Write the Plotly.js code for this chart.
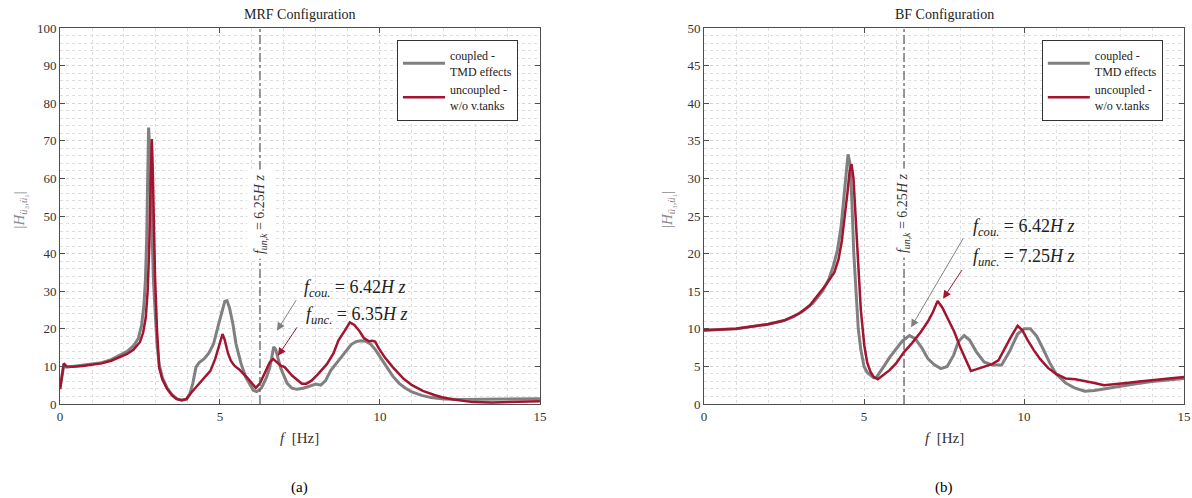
<!DOCTYPE html>
<html>
<head>
<meta charset="utf-8">
<script src="https://cdn.plot.ly/plotly-3.0.1.min.js"></script>
<style>
  html, body { margin: 0; padding: 0; background: #fff; }
  #chart { width: 1192px; height: 498px; }
</style>
</head>
<body>
<div id="chart"></div>
<script>
// ---------- DATA ----------
const seriesNames = ["coupled -<br>TMD effects", "uncoupled -<br>w/o v.tanks"];
const panelTitles = ["MRF Configuration", "BF Configuration"];
const panelLabels = ["(a)", "(b)"];
const fUnk = 6.25;

// MRF – coupled (TMD effects)
const mrfCoupledF = [0, 0.05, 0.12, 0.2, 0.4, 0.7, 1.0, 1.3, 1.6, 1.9, 2.1, 2.3, 2.45, 2.55, 2.62, 2.67, 2.71, 2.74, 2.77, 2.8, 2.84, 2.88, 2.92, 2.97, 3.03, 3.1, 3.2, 3.35, 3.5, 3.65, 3.8, 3.95, 4.05, 4.15, 4.25, 4.35, 4.5, 4.65, 4.8, 4.95, 5.05, 5.15, 5.22, 5.3, 5.4, 5.5, 5.65, 5.8, 5.95, 6.05, 6.15, 6.3, 6.45, 6.55, 6.62, 6.68, 6.74, 6.82, 6.9, 7.0, 7.1, 7.25, 7.4, 7.6, 7.8, 8.0, 8.15, 8.3, 8.46, 8.7, 8.94, 9.1, 9.25, 9.4, 9.55, 9.7, 9.85, 10.0, 10.2, 10.4, 10.6, 10.8, 11.0, 11.3, 11.6, 12.0, 12.5, 13.0, 13.5, 14.0, 14.5, 15.0];
const mrfCoupledH = [4, 7, 10.5, 9.8, 10, 10.3, 10.5, 11, 11.8, 13, 14, 15.5, 17.5, 21, 26, 33, 44, 60, 73.5, 68, 55, 42, 33, 25, 16, 10.5, 7, 4.2, 2.5, 1.4, 1, 1.3, 2.5, 5.5, 9.8, 11, 12, 13.5, 16, 21, 24.5, 27.3, 27.5, 25.5, 21.5, 16, 11, 7.2, 5, 3.6, 3.3, 4.3, 7, 9.5, 12.5, 15.2, 14.5, 12, 9.5, 7.5, 5.5, 4.2, 3.9, 4.2, 4.8, 5.3, 5, 6.2, 8.9, 11.5, 14.2, 15.8, 16.6, 16.8, 16.7, 16, 14.5, 12.5, 9.8, 7.4, 5.5, 4.2, 3.2, 2.3, 1.7, 1.3, 1.2, 1.2, 1.2, 1.3, 1.3, 1.4];

// MRF – uncoupled (w/o v.tanks)
const mrfUncoupledF = [0, 0.06, 0.12, 0.2, 0.4, 0.7, 1.0, 1.3, 1.6, 1.9, 2.1, 2.3, 2.5, 2.6, 2.68, 2.74, 2.79, 2.83, 2.87, 2.9, 2.93, 2.97, 3.03, 3.1, 3.2, 3.35, 3.5, 3.65, 3.8, 3.95, 4.1, 4.3, 4.5, 4.7, 4.85, 5.0, 5.08, 5.15, 5.25, 5.34, 5.45, 5.6, 5.7, 5.85, 6.0, 6.12, 6.25, 6.4, 6.55, 6.66, 6.8, 6.9, 7.02, 7.15, 7.26, 7.4, 7.56, 7.7, 7.86, 8.05, 8.34, 8.55, 8.7, 8.9, 9.06, 9.2, 9.35, 9.5, 9.66, 9.75, 9.85, 9.95, 10.15, 10.4, 10.74, 11.0, 11.34, 11.7, 11.94, 12.3, 12.9, 13.5, 14.0, 14.5, 15.0];
const mrfUncoupledH = [4, 7, 10.8, 10, 9.9, 10.1, 10.4, 10.8, 11.5, 12.5, 13.3, 14.5, 16.5, 19, 23, 30, 42, 58, 70.5, 62, 48, 34, 20, 9.6, 6.5, 4, 2.3, 1.3, 1, 1.3, 3, 5, 6.8, 8.8, 12, 16, 18.6, 17, 13.5, 11.5, 10.2, 9.2, 8.4, 7, 5.5, 4.3, 5.5, 8.5, 11, 12, 11, 10.2, 9.8, 8.5, 7.5, 6.5, 5.4, 5.4, 6.2, 7.8, 10.6, 13.5, 16.9, 19.5, 21.7, 21, 19.5, 17.5, 16.7, 16.8, 16.6, 15, 12.4, 9.8, 6.7, 5, 3.5, 2.4, 1.8, 1.2, 0.5, 0.4, 0.5, 0.6, 0.7];

// BF – coupled (TMD effects)
const bfCoupledF = [0, 0.5, 1, 1.5, 2, 2.5, 2.8, 3.1, 3.4, 3.7, 3.9, 4.05, 4.17, 4.28, 4.36, 4.43, 4.5, 4.56, 4.62, 4.68, 4.75, 4.82, 4.9, 5.0, 5.1, 5.2, 5.3, 5.38, 5.5, 5.65, 5.8, 6.0, 6.2, 6.42, 6.6, 6.8, 7.0, 7.2, 7.4, 7.6, 7.8, 7.95, 8.13, 8.3, 8.5, 8.75, 9.0, 9.3, 9.55, 9.8, 10.0, 10.2, 10.4, 10.6, 10.8, 11.0, 11.3, 11.6, 11.9, 12.2, 12.6, 13.0, 13.5, 14.0, 14.5, 15.0];
const bfCoupledH = [9.8, 9.9, 10, 10.3, 10.6, 11.1, 11.6, 12.4, 13.4, 15, 16.6, 18.5, 20.5, 23.5, 27, 30.5, 33.2, 32, 27, 20, 14, 10, 7.2, 5, 4.2, 3.8, 3.5, 3.5, 4.2, 5.2, 6.2, 7.3, 8.4, 9.1, 8.7, 7.5, 6, 5.2, 4.7, 5, 6.5, 8.3, 9.1, 8.5, 7, 5.6, 5.2, 5.2, 7, 9.3, 10, 10, 9, 7.3, 5.5, 4, 2.8, 2.1, 1.7, 1.8, 2.1, 2.4, 2.7, 3, 3.2, 3.4];

// BF – uncoupled (w/o v.tanks)
const bfUncoupledF = [0, 0.5, 1, 1.5, 2, 2.5, 3.0, 3.3, 3.55, 3.8, 4.07, 4.2, 4.3, 4.4, 4.48, 4.55, 4.61, 4.67, 4.73, 4.8, 4.9, 5.01, 5.1, 5.2, 5.3, 5.43, 5.6, 5.8, 6.0, 6.25, 6.5, 6.78, 7.0, 7.15, 7.3, 7.45, 7.6, 7.82, 8.03, 8.2, 8.34, 8.5, 8.8, 9.0, 9.2, 9.4, 9.6, 9.8, 9.95, 10.1, 10.3, 10.5, 10.75, 11.0, 11.3, 11.6, 11.9, 12.2, 12.5, 12.8, 13.2, 13.6, 14.0, 14.5, 15.0];
const bfUncoupledH = [9.8, 9.9, 10, 10.3, 10.6, 11.1, 12.1, 13.1, 14.4, 15.8, 17.5, 19.2, 21.5, 24.7, 28, 31, 31.9, 30, 25, 19.7, 12.5, 7.75, 5.5, 4.3, 3.6, 3.3, 3.8, 4.5, 5.4, 6.9, 8.1, 9.6, 11, 12.2, 13.7, 12.8, 11.5, 9.6, 7.3, 5.8, 4.4, 4.6, 5.0, 5.3, 5.8, 7.5, 9, 10.4, 9.8, 8.6, 7.2, 6.0, 4.8, 4.0, 3.4, 3.3, 3.1, 2.8, 2.5, 2.6, 2.8, 3.0, 3.2, 3.4, 3.6];

// peak annotation labels
const mrfPeakLabels = ["<i>f</i><sub><i>cou.</i></sub> = 6.42<i>H z</i>", "<i>f</i><sub><i>unc.</i></sub> = 6.35<i>H z</i>"];
const bfPeakLabels  = ["<i>f</i><sub><i>cou.</i></sub> = 6.42<i>H z</i>", "<i>f</i><sub><i>unc.</i></sub> = 7.25<i>H z</i>"];

// ---------- STYLE ----------
const GRAY = "#808080";
const RED = "#A2142F";
const FONT = "'Liberation Serif', 'DejaVu Serif', serif";
const AXC = "#4d4d4d";

function trace(x, y, name, color, width, xa, ya, legend) {
  return { x: x, y: y, name: name, type: "scatter", mode: "lines",
    line: { color: color, width: width }, xaxis: xa, yaxis: ya, legend: legend,
    hoverinfo: "skip" };
}

const data = [
  trace(mrfCoupledF, mrfCoupledH, seriesNames[0], GRAY, 3, "x", "y", "legend"),
  trace(mrfUncoupledF, mrfUncoupledH, seriesNames[1], RED, 2.5, "x", "y", "legend"),
  trace(bfCoupledF, bfCoupledH, seriesNames[0], GRAY, 3, "x2", "y2", "legend2"),
  trace(bfUncoupledF, bfUncoupledH, seriesNames[1], RED, 2.5, "x2", "y2", "legend2")
];

function xAxis(domain, anchor) {
  return { domain: domain, anchor: anchor, range: [0, 15], dtick: 5, tick0: 0,
    showline: true, linecolor: AXC, linewidth: 1, mirror: "ticks",
    ticks: "inside", ticklen: 5, tickcolor: AXC, zeroline: false,
    showgrid: true, gridcolor: "#d6d6d6", griddash: "dot", gridwidth: 1,
    minor: { dtick: 1, showgrid: true, gridcolor: "#dedede", griddash: "dot", gridwidth: 1, ticks: "" },
    tickfont: { family: FONT, size: 13, color: "#333" } };
}
function yAxis(domain, anchor, max, major, minor) {
  return { domain: domain, anchor: anchor, range: [0, max], dtick: major, tick0: 0,
    showline: true, linecolor: AXC, linewidth: 1, mirror: "ticks",
    ticks: "inside", ticklen: 5, tickcolor: AXC, zeroline: false,
    showgrid: true, gridcolor: "#d6d6d6", griddash: "dot", gridwidth: 1,
    minor: { dtick: minor, showgrid: true, gridcolor: "#dedede", griddash: "dot", gridwidth: 1, ticks: "" },
    tickfont: { family: FONT, size: 13, color: "#333" } };
}

const leftDom = [0, 0.427];
const rightDom = [0.573, 1];

function textAnn(text, x, y, xref, yref, size, extra) {
  return Object.assign({ text: text, x: x, y: y, xref: xref, yref: yref, showarrow: false,
    xanchor: "center", yanchor: "middle",
    font: { family: FONT, size: size, color: "#222" } }, extra || {});
}
function arrowAnn(x, y, ax, ay, xr, yr, color) {
  return { text: "", x: x, y: y, ax: ax, ay: ay, xref: xr, yref: yr, axref: xr, ayref: yr,
    showarrow: true, arrowhead: 2, arrowsize: 1.6, arrowwidth: 1, arrowcolor: color };
}

const annotations = [
  // titles
  textAnn(panelTitles[0], 0.2135, 1.037, "paper", "paper", 14),
  textAnn(panelTitles[1], 0.7865, 1.037, "paper", "paper", 14),
  // x titles
  textAnn("<i>f</i>  [Hz]", 0.2135, -0.09, "paper", "paper", 15, {font: {family: FONT, size: 15, color: "#333"}}),
  textAnn("<i>f</i>  [Hz]", 0.7865, -0.09, "paper", "paper", 15, {font: {family: FONT, size: 15, color: "#333"}}),
  // y titles
  textAnn("|<i>H</i><sub><i>ü</i>₃<i>,ü</i>₁</sub>|", -0.036, 0.516, "paper", "paper", 15, {textangle: -90, font: {family: FONT, size: 15, color: "#888"}}),
  textAnn("|<i>H</i><sub><i>ü</i>₃<i>,ü</i>₁</sub>|", 0.541, 0.516, "paper", "paper", 15, {textangle: -90, font: {family: FONT, size: 15, color: "#888"}}),
  // sub-captions
  textAnn(panelLabels[0], 0.2135, -0.221, "paper", "paper", 15, {font: {family: FONT, size: 15, color: "#000"}}),
  textAnn(panelLabels[1], 0.7865, -0.221, "paper", "paper", 15, {font: {family: FONT, size: 15, color: "#000"}}),
  // f_un,k vertical labels
  textAnn("<i>f</i><sub><i>un,k</i></sub> = 6.25<i>H z</i>", fUnk, 50.5, "x", "y", 14, {textangle: -90, bgcolor: "#fff", borderpad: 4, font: {family: FONT, size: 14, color: "#333"}}),
  textAnn("<i>f</i><sub><i>un,k</i></sub> = 6.25<i>H z</i>", fUnk, 25.4, "x2", "y2", 14, {textangle: -90, bgcolor: "#fff", borderpad: 4, font: {family: FONT, size: 14, color: "#333"}}),
  // peak labels
  textAnn(mrfPeakLabels[0], 7.56, 30.7, "x", "y", 18, {xanchor: "left"}),
  textAnn(mrfPeakLabels[1], 7.63, 23.5, "x", "y", 18, {xanchor: "left"}),
  textAnn(bfPeakLabels[0], 8.34, 23.5, "x2", "y2", 18, {xanchor: "left"}),
  textAnn(bfPeakLabels[1], 8.34, 19.5, "x2", "y2", 18, {xanchor: "left"}),
  // arrows
  arrowAnn(6.78, 19.5, 7.41, 28, "x", "y", GRAY),
  arrowAnn(6.81, 12.8, 7.44, 20.8, "x", "y", RED),
  arrowAnn(6.47, 10.2, 8.125, 22.2, "x2", "y2", GRAY),
  arrowAnn(7.47, 14.0, 8.09, 18.0, "x2", "y2", RED)
];

const shapes = [
  { type: "line", xref: "x", yref: "y", x0: fUnk, x1: fUnk, y0: 0, y1: 100,
    line: { color: "#555", width: 1.2, dash: "dashdot" } },
  { type: "line", xref: "x2", yref: "y2", x0: fUnk, x1: fUnk, y0: 0, y1: 50,
    line: { color: "#555", width: 1.2, dash: "dashdot" } }
];

function legendBox(x) {
  return { x: x, y: 0.968, xanchor: "left", yanchor: "top", bgcolor: "#fff",
    bordercolor: "#333", borderwidth: 1, font: { family: FONT, size: 12, color: "#222" },
    tracegroupgap: 0, itemwidth: 42, traceorder: "normal" };
}

const layout = {
  width: 1192, height: 498,
  margin: { l: 60, r: 8, t: 28, b: 94 },
  paper_bgcolor: "#fff", plot_bgcolor: "#fff",
  showlegend: true,
  font: { family: FONT },
  xaxis: xAxis(leftDom, "y"),
  yaxis: yAxis([0, 1], "x", 100, 10, 2),
  xaxis2: xAxis(rightDom, "y2"),
  yaxis2: yAxis([0, 1], "x2", 50, 5, 1),
  legend: legendBox(0.2998),
  legend2: legendBox(0.8735),
  annotations: annotations,
  shapes: shapes
};

Plotly.newPlot("chart", data, layout, { displayModeBar: false, staticPlot: true });
</script>
</body>
</html>
